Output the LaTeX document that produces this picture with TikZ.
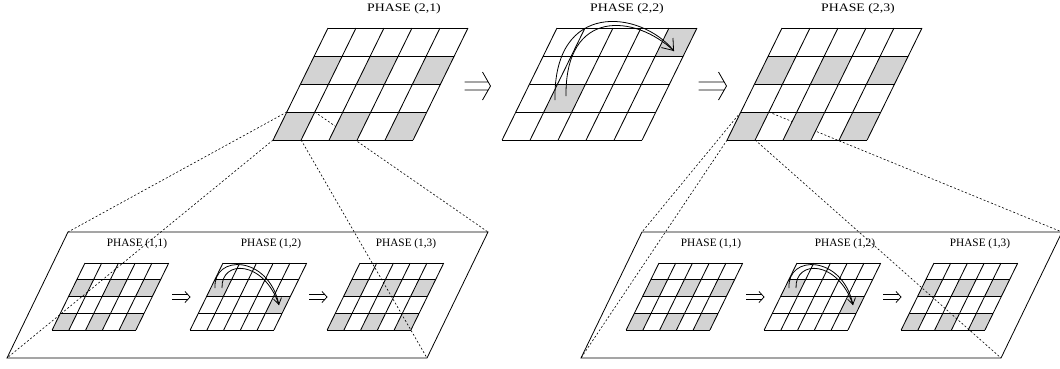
\documentclass[tikz,border=0pt]{standalone}
\usepackage{fontspec}
\setmainfont{Liberation Serif}
\usetikzlibrary{arrows.meta}
\definecolor{cellgray}{RGB}{211,211,211}
\pgfdeclarelayer{front}
\pgfsetlayers{main,front}
\tikzset{
  gridline/.style={line width=0.85pt},
  framestyle/.style={line width=0.8pt},
  projection/.style={line width=0.6pt, dash pattern=on 2pt off 2pt},
  impliesline/.style={line width=0.8pt},
  swaparc/.style={line width=0.8pt},
  bigtip/.style={-{Straight Barb[length=10pt,width=15pt]}},
  smalltip/.style={-{Straight Barb[length=6pt,width=8pt]}},
  toplabel/.style={inner sep=0pt, anchor=base, font=\fontsize{11.5}{13}\selectfont},
  sublabel/.style={inner sep=0pt, anchor=base, font=\fontsize{11.3}{13}\selectfont},
}

% slanted 5x4 grid: name, top-left x, top-left y, cell size, shaded cells (col/row)
\newcommand{\phasegrid}[5]{%
  \begin{scope}[shift={(#2,#3)}, xslant=0.49, x=#4pt, y=-#4pt]
    \foreach \c/\r in {#5}
      \fill[cellgray] (\c-1,\r-1) -- (\c,\r-1) -- (\c,\r) -- (\c-1,\r) -- cycle;
    \foreach \r in {0,...,4} \draw[gridline] (0,\r) -- (5,\r);
    \foreach \c in {0,...,5} \draw[gridline] (\c,0) -- (\c,4);
    \coordinate (#1 ctl) at (0,3);
    \coordinate (#1 ctr) at (1,3);
    \coordinate (#1 cbl) at (0,4);
    \coordinate (#1 cbr) at (1,4);
  \end{scope}}

% double "implies" arrow: centre x, centre y, half length, half gap, head half height, head depth
\newcommand{\thenarrow}[6]{%
  \begin{scope}[shift={(#1,#2)}]
    \draw[impliesline] (-#3,-#4) -- ({#3-#6*#4/#5},-#4)
                       (-#3,#4) -- ({#3-#6*#4/#5},#4)
                       (#3-#6,-#5) -- (#3,0) -- (#3-#6,#5);
  \end{scope}}

% lower-level panel with its three phases: prefix, horizontal offset
\newcommand{\subpanel}[2]{%
  \begin{scope}[shift={(#2,0)}]
    \draw[framestyle] (7,358) coordinate (#1 bl) -- (427,358) coordinate (#1 br)
      -- (488,232) coordinate (#1 tr) -- (68,232) coordinate (#1 tl) -- cycle;
    \node[sublabel] (#1 l1) at (137,246.5) {PHASE (1,1)};
    \node[sublabel] (#1 l2) at (271,246.5) {PHASE (1,2)};
    \node[sublabel] (#1 l3) at (406,246.5) {PHASE (1,3)};
    \phasegrid{#1 g1}{85}{263}{16.75}{1/2,3/2,5/2,1/4,3/4,5/4}
    \phasegrid{#1 g2}{223}{263}{16.75}{1/2,5/3}
    \phasegrid{#1 g3}{360}{263}{16.75}{1/2,3/2,5/2,1/4,3/4,5/4}
    \thenarrow{181}{297}{9}{2.5}{5.5}{5}
    \thenarrow{318}{297}{9}{2.5}{5.5}{5}
    \coordinate (#1 sa) at (215,288);
    \coordinate (#1 sb) at (222,288);
    \coordinate (#1 st) at (279,305);
    \draw[swaparc, smalltip] (#1 sa) .. controls (213,254) and (268,255) .. (#1 st);
    \draw[swaparc] (#1 sb) .. controls (221,259) and (264,260) .. (#1 st);
  \end{scope}}

\begin{document}
\begin{tikzpicture}[x=1pt, y=-1pt]
  \useasboundingbox (0,0) rectangle (1060,368);
  \fill[white] (0,0) rectangle (1060,368);
  \clip (0,0) rectangle (1060,368);

  % upper level: three phases
  \begin{pgfonlayer}{front}
    \node[toplabel] (t21) at (404,11) {\scalebox{1.2}[1]{PHASE (2,1)}};
    \node[toplabel] (t22) at (627,11) {\scalebox{1.2}[1]{PHASE (2,2)}};
    \node[toplabel] (t23) at (858,11) {\scalebox{1.2}[1]{PHASE (2,3)}};
    \phasegrid{T1}{328}{28}{28}{1/2,3/2,5/2,1/4,3/4,5/4}
    \phasegrid{T2}{557}{28}{28}{5/1,2/3}
    \phasegrid{T3}{782}{28}{28}{1/2,3/2,5/2,1/4,3/4,5/4}
    \thenarrow{477.5}{86}{13}{4}{14}{8}
    \thenarrow{712.5}{86}{14}{4}{14}{8}
    \coordinate (T2 sa) at (555,100);
    \coordinate (T2 sb) at (566,96);
    \coordinate (T2 st) at (674,51);
    \draw[swaparc, bigtip] (T2 sa) .. controls (553,0) and (640,10) .. (T2 st);
    \draw[swaparc] (T2 sb) .. controls (565,8) and (635,14) .. (T2 st);
  \end{pgfonlayer}

  % lower level: two expanded panels
  \subpanel{L}{0}
  \subpanel{R}{574}

  % projection lines from a cell to the panel it expands into
  \draw[projection] (T1 ctl) -- (L tl);
  \draw[projection] (T1 ctr) -- (L tr);
  \draw[projection] (T1 cbl) -- (L bl);
  \draw[projection] (T1 cbr) -- (L br);
  \draw[projection] (T3 ctl) -- (R tl);
  \draw[projection] (T3 ctr) -- (R tr);
  \draw[projection] (T3 cbl) -- (R bl);
  \draw[projection] (T3 cbr) -- (R br);
\end{tikzpicture}
\end{document}
